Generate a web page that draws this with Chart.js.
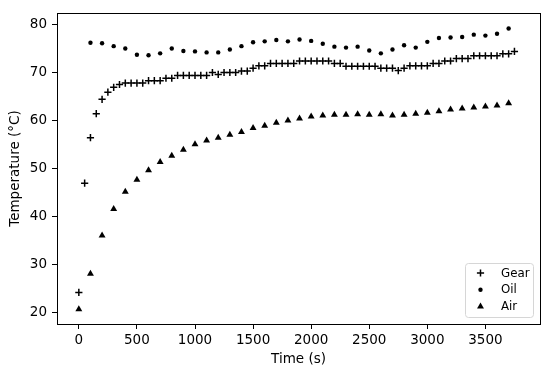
<!DOCTYPE html>
<html>
<head>
<meta charset="utf-8">
<script src="https://cdn.jsdelivr.net/npm/chart.js@4"></script>
<style>
  html, body { margin: 0; padding: 0; background: #fff; }
  #wrap { width: 550px; height: 375px; }
</style>
</head>
<body>
<div id="wrap"><canvas id="chart" width="550" height="375"></canvas></div>
<script>
// Time (s) for each series
const gearTime = [0, 50, 100, 150, 200, 250, 300, 350, 400, 450, 500, 550, 600, 650, 700, 750,
  800, 850, 900, 950, 1000, 1050, 1100, 1150, 1200, 1250, 1300, 1350, 1400, 1450, 1500, 1550,
  1600, 1650, 1700, 1750, 1800, 1850, 1900, 1950, 2000, 2050, 2100, 2150, 2200, 2250, 2300, 2350,
  2400, 2450, 2500, 2550, 2600, 2650, 2700, 2750, 2800, 2850, 2900, 2950, 3000, 3050, 3100, 3150,
  3200, 3250, 3300, 3350, 3400, 3450, 3500, 3550, 3600, 3650, 3700, 3750];
const gearTemp = [24.1, 46.9, 56.4, 61.4, 64.4, 65.9, 66.9, 67.5, 67.8, 67.8, 67.8, 67.8, 68.3, 68.3, 68.3, 68.8,
  68.8, 69.4, 69.4, 69.4, 69.4, 69.4, 69.4, 70.0, 69.6, 70.0, 70.0, 70.0, 70.3, 70.3, 70.9, 71.4,
  71.4, 71.9, 71.9, 71.9, 71.9, 71.9, 72.4, 72.4, 72.4, 72.4, 72.4, 72.4, 71.9, 71.9, 71.3, 71.3,
  71.3, 71.3, 71.3, 71.3, 70.9, 70.9, 70.9, 70.4, 70.9, 71.4, 71.4, 71.4, 71.4, 71.9, 71.9, 72.4,
  72.4, 72.9, 72.9, 72.9, 73.5, 73.5, 73.5, 73.5, 73.5, 73.9, 73.9, 74.4];

const oilTime = [100, 200, 300, 400, 500, 600, 700, 800, 900, 1000, 1100, 1200, 1300, 1400, 1500,
  1600, 1700, 1800, 1900, 2000, 2100, 2200, 2300, 2400, 2500, 2600, 2700, 2800, 2900, 3000,
  3100, 3200, 3300, 3400, 3500, 3600, 3700];
const oilTemp = [76.2, 76.1, 75.5, 75.0, 73.7, 73.6, 74.0, 75.0, 74.5, 74.4, 74.2, 74.2, 74.8, 75.5, 76.3,
  76.5, 76.8, 76.5, 76.9, 76.6, 76.0, 75.4, 75.2, 75.4, 74.6, 74.0, 74.8, 75.7, 75.2, 76.4,
  77.2, 77.3, 77.4, 77.9, 77.7, 78.1, 79.2];

const airTime = [0, 100, 200, 300, 400, 500, 600, 700, 800, 900, 1000, 1100, 1200, 1300, 1400, 1500,
  1600, 1700, 1800, 1900, 2000, 2100, 2200, 2300, 2400, 2500, 2600, 2700, 2800, 2900, 3000,
  3100, 3200, 3300, 3400, 3500, 3600, 3700];
const airTemp = [20.6, 28.0, 36.0, 41.5, 45.1, 47.6, 49.6, 51.3, 52.6, 53.9, 55.0, 55.8, 56.4, 57.0, 57.6, 58.4,
  58.9, 59.5, 60.0, 60.4, 60.8, 61.0, 61.2, 61.2, 61.3, 61.2, 61.3, 61.0, 61.2, 61.4, 61.6,
  61.9, 62.3, 62.5, 62.7, 62.9, 63.1, 63.6];

const xTicks = [0, 500, 1000, 1500, 2000, 2500, 3000, 3500];
const yTicks = [20, 30, 40, 50, 60, 70, 80];

const FONT = "'DejaVu Sans', sans-serif";

function pts(xs, ys) {
  return xs.map((x, i) => ({ x: x, y: ys[i] }));
}

const series = [
  { label: "Gear", data: pts(gearTime, gearTemp), style: "cross", radius: 3.6, bw: 1.5 },
  { label: "Oil", data: pts(oilTime, oilTemp), style: "circle", radius: 2.2, bw: 0 },
  { label: "Air", data: pts(airTime, airTemp), style: "triangle", radius: 4, bw: 0 },
];

// frame on all four sides, like matplotlib
const framePlugin = {
  id: "frame",
  afterDraw(chart) {
    const a = chart.chartArea;
    const ctx = chart.ctx;
    ctx.save();
    ctx.strokeStyle = "#000";
    ctx.lineWidth = 1;
    ctx.strokeRect(Math.round(a.left) + 0.5, Math.round(a.top) + 0.5,
      Math.round(a.right - a.left), Math.round(a.bottom - a.top));
    ctx.restore();
  },
};

// legend box in the lower right corner
const legendPlugin = {
  id: "boxLegend",
  afterDraw(chart) {
    const ctx = chart.ctx;
    const a = chart.chartArea;
    const w = 68, h = 54;
    const x0 = a.right - 7 - w, y0 = a.bottom - 7 - h;
    ctx.save();
    ctx.fillStyle = "rgba(255,255,255,0.8)";
    ctx.strokeStyle = "#d6d6d6";
    ctx.lineWidth = 1;
    ctx.beginPath();
    ctx.roundRect(x0 + 0.5, y0 + 0.5, w, h, 3);
    ctx.fill();
    ctx.stroke();
    ctx.font = "11.8px " + FONT;
    ctx.textBaseline = "middle";
    ctx.textAlign = "left";
    series.forEach((s, i) => {
      const cy = y0 + 10 + i * 16.7;
      const cx = x0 + 15.5;
      ctx.fillStyle = "#000";
      ctx.strokeStyle = "#000";
      ctx.lineWidth = s.bw || 1;
      Chart.helpers.drawPoint(ctx, { pointStyle: s.style, radius: s.radius, borderWidth: s.bw }, cx, cy);
      ctx.fillStyle = "#000";
      ctx.fillText(s.label, x0 + 36, cy + 0.5);
    });
    ctx.restore();
  },
};

new Chart(document.getElementById("chart"), {
  type: "scatter",
  data: {
    datasets: series.map((s) => ({
      label: s.label,
      data: s.data,
      pointStyle: s.style,
      pointRadius: s.radius,
      pointHoverRadius: s.radius,
      pointBorderWidth: s.bw,
      pointBackgroundColor: "#000",
      pointBorderColor: "#000",
      showLine: false,
    })),
  },
  options: {
    responsive: false,
    animation: false,
    layout: { padding: { top: 10, right: 10, left: 0, bottom: 0 } },
    plugins: {
      legend: { display: false },
      tooltip: { enabled: false },
    },
    scales: {
      x: {
        type: "linear",
        min: -188,
        max: 3970,
        afterBuildTicks: (scale) => { scale.ticks = xTicks.map((v) => ({ value: v })); },
        afterFit: (scale) => { scale.height = 51; },
        border: { display: false },
        grid: { drawOnChartArea: false, drawTicks: true, tickLength: 5, color: "#000", tickWidth: 1 },
        ticks: {
          color: "#000", padding: 3, font: { family: FONT, size: 13.5 }, maxRotation: 0,
          callback: (v) => String(v),
        },
        title: {
          display: true, text: "Time (s)", color: "#000",
          font: { family: FONT, size: 13.5 }, padding: { top: 0, bottom: 7 },
        },
      },
      y: {
        type: "linear",
        min: 17.5,
        max: 82.4,
        afterBuildTicks: (scale) => { scale.ticks = yTicks.map((v) => ({ value: v })); },
        afterFit: (scale) => { scale.width = 57; },
        border: { display: false },
        grid: { drawOnChartArea: false, drawTicks: true, tickLength: 5, color: "#000", tickWidth: 1 },
        ticks: { color: "#000", padding: 5, font: { family: FONT, size: 13.5 }, callback: (v) => String(v) },
        title: {
          display: true, text: "Temperature (°C)", color: "#000",
          font: { family: FONT, size: 13.5 }, padding: { top: 7, bottom: 0 },
        },
      },
    },
  },
  plugins: [framePlugin, legendPlugin],
});
</script>
</body>
</html>
